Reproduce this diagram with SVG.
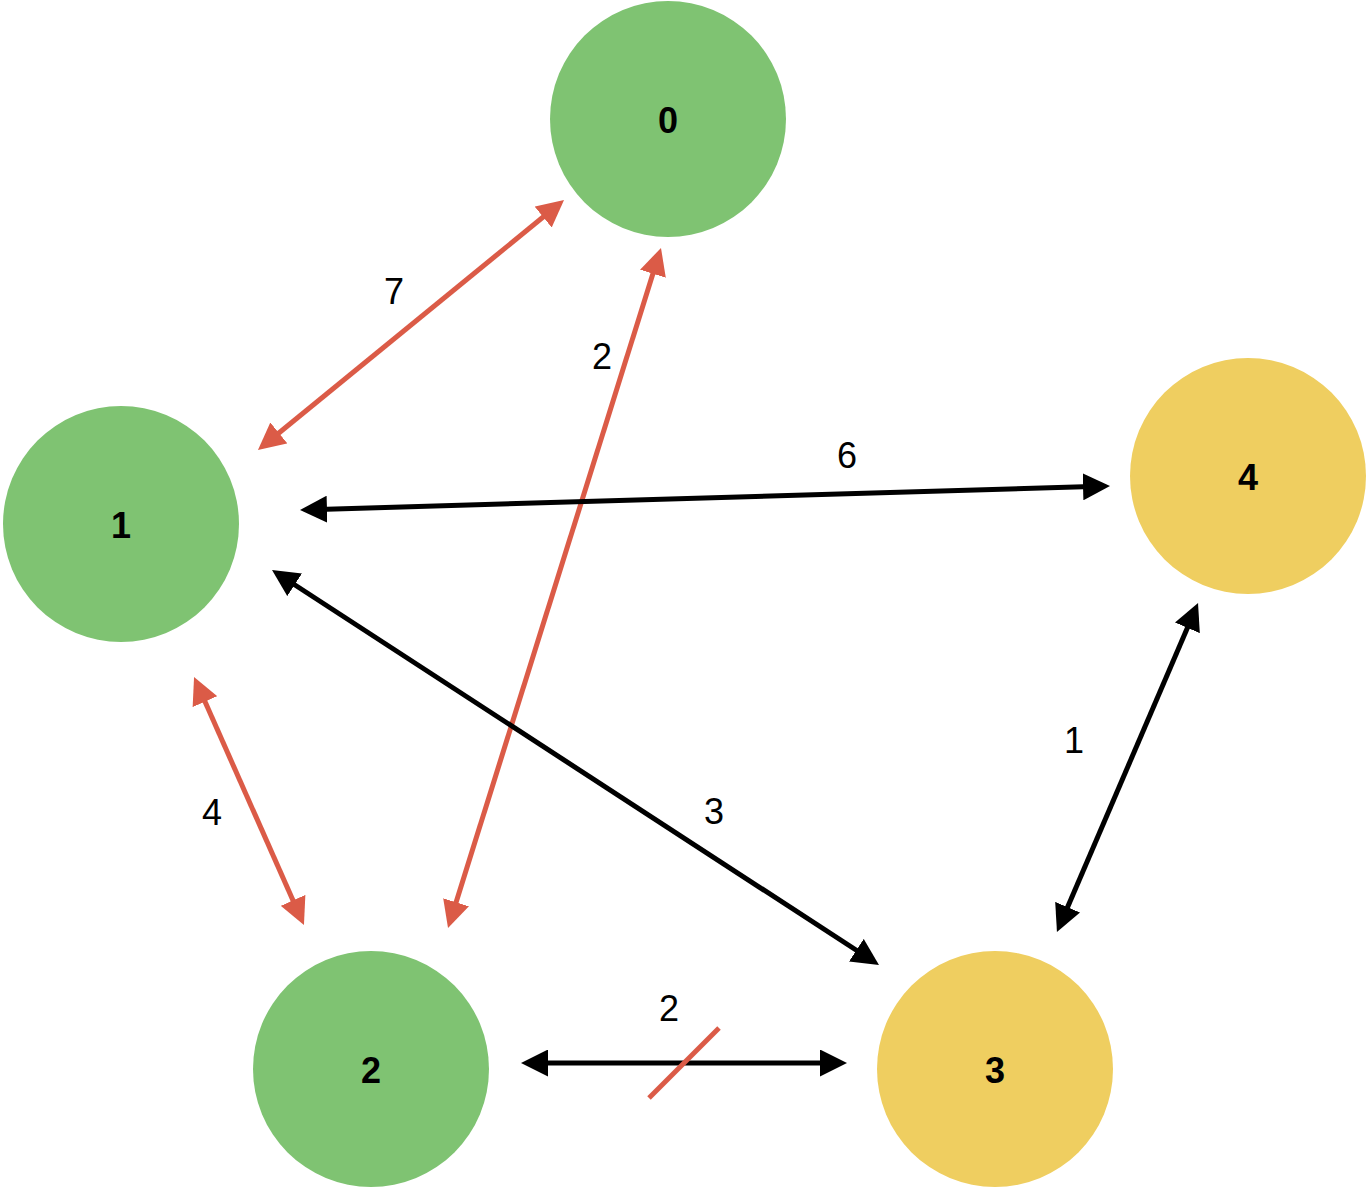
<svg xmlns="http://www.w3.org/2000/svg" width="1368" height="1188" viewBox="0 0 1368 1188">
<style>
.node-green{fill:#7fc372}
.node-yellow{fill:#efce60}
.nlabel{font-family:"Liberation Sans",Arial,sans-serif;font-weight:bold;font-size:36px;fill:#000;text-anchor:middle;dominant-baseline:central}
.elabel{font-family:"Liberation Sans",Arial,sans-serif;font-size:36px;fill:#000;text-anchor:middle;dominant-baseline:central}
.red{stroke:#db5b47;stroke-width:5;fill:none;marker-start:url(#ahr);marker-end:url(#ahr)}
.black{stroke:#000;stroke-width:5;fill:none;marker-start:url(#ahb);marker-end:url(#ahb)}
</style>
<defs>
<marker id="ahr" markerUnits="userSpaceOnUse" markerWidth="28" markerHeight="27" refX="17" refY="13.5" orient="auto-start-reverse" viewBox="0 0 28 27"><path d="M0,0 L27,13.5 L0,27 z" fill="#db5b47"/></marker>
<marker id="ahb" markerUnits="userSpaceOnUse" markerWidth="28" markerHeight="27" refX="17" refY="13.5" orient="auto-start-reverse" viewBox="0 0 28 27"><path d="M0,0 L27,13.5 L0,27 z" fill="#000"/></marker>
</defs>
<rect width="1368" height="1188" fill="#fff"/>
<g id="connectors">
<line class="red" x1="265.7" y1="443.7" x2="556.3" y2="206.3"/>
<line class="red" x1="451" y1="918.5" x2="658" y2="257.5"/>
<line class="red" x1="198.1" y1="686.1" x2="299.9" y2="915.9"/>
<line class="black" x1="310" y1="509.7" x2="1100" y2="486.3"/>
<line class="black" x1="280.4" y1="575.5" x2="870.6" y2="959.5"/>
<line class="black" x1="531" y1="1063" x2="837" y2="1063"/>
<line class="black" x1="1060.9" y1="922.8" x2="1194.1" y2="612.2"/>
<line x1="649" y1="1098" x2="719" y2="1028" stroke="#db5b47" stroke-width="5"/>
<text class="elabel" x="394" y="291">7</text>
<text class="elabel" x="602" y="356">2</text>
<text class="elabel" x="847" y="455">6</text>
<text class="elabel" x="714" y="811">3</text>
<text class="elabel" x="212" y="812">4</text>
<text class="elabel" x="1074" y="740">1</text>
<text class="elabel" x="669" y="1008">2</text>
</g>
<g id="node0"><circle class="node-green" cx="668" cy="119" r="118"/><text class="nlabel" x="668" y="120">0</text></g>
<g id="node1"><circle class="node-green" cx="121" cy="524" r="118"/><text class="nlabel" x="121" y="525">1</text></g>
<g id="node2"><circle class="node-green" cx="371" cy="1069" r="118"/><text class="nlabel" x="371" y="1070">2</text></g>
<g id="node3"><circle class="node-yellow" cx="995" cy="1069" r="118"/><text class="nlabel" x="995" y="1070">3</text></g>
<g id="node4"><circle class="node-yellow" cx="1248" cy="476" r="118"/><text class="nlabel" x="1248" y="477">4</text></g>
</svg>
